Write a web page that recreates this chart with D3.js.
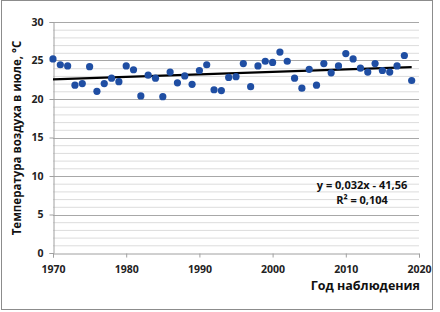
<!DOCTYPE html>
<html><head><meta charset="utf-8">
<script src="https://cdn.jsdelivr.net/npm/d3@7"></script>
<style>body{margin:0;background:#fff}svg{display:block}text{font-family:"Open Sans","Liberation Sans",Arial,sans-serif}</style>
</head><body><svg id="c" width="440" height="312"></svg>
<script>
const years = d3.range(1970, 2020);
const temps = [25.2,24.45,24.3,21.8,22.0,24.2,21.0,22.0,22.7,22.25,
  24.3,23.8,20.4,23.1,22.7,20.3,23.5,22.1,23.0,21.9,
  23.7,24.45,21.2,21.1,22.8,22.9,24.6,21.6,24.3,24.9,
  24.75,26.1,24.9,22.7,21.4,23.85,21.8,24.6,23.4,24.3,
  25.9,25.2,24.0,23.5,24.6,23.7,23.5,24.3,25.65,22.4];
const xTicks = [1970,1980,1990,2000,2010,2020];
const yTicks = [0,5,10,15,20,25,30];
const eqLabel = "y = 0,032x - 41,56";
const r2Label = "R² = 0,104";
const xTitle = "Год наблюдения";
const yTitle = "Температура  воздуха в июле, °С";

const svg = d3.select("#c");
svg.append("rect").attr("x",1.5).attr("y",0.5).attr("width",431).attr("height",309)
  .attr("fill","#fff").attr("stroke","#8c8c8c");
const x = d3.scaleLinear().domain([1970,2020]).range([53,419]);
const y = d3.scaleLinear().domain([0,30]).range([253,22]);

// grid
const g = svg.append("g");
g.selectAll("line.minor").data(d3.range(0,31).filter(v=>v%5)).join("line")
  .attr("x1",x(1970)).attr("x2",x(2020)).attr("y1",d=>y(d)+0.5).attr("y2",d=>y(d)+0.5)
  .attr("stroke","#dcdcdc").attr("stroke-width",1);
g.selectAll("line.major").data(yTicks.slice(1)).join("line")
  .attr("x1",x(1970)).attr("x2",x(2020)).attr("y1",d=>Math.round(y(d))+0.5).attr("y2",d=>Math.round(y(d))+0.5)
  .attr("stroke","#a8a8a8").attr("stroke-width",1.2);

// axes
const yAxis = svg.append("g").attr("transform",`translate(${Math.round(x(1970))+0.5},0)`)
  .call(d3.axisLeft(y).tickValues(yTicks).tickSize(4).tickPadding(6).tickFormat(d3.format("d")));
const xAxis = svg.append("g").attr("transform",`translate(0,${Math.round(y(0))+0.5})`)
  .call(d3.axisBottom(x).tickValues(xTicks).tickSize(4).tickPadding(8).tickFormat(d3.format("d")));
[yAxis,xAxis].forEach(a=>{
  a.select(".domain").attr("stroke","#a0a0a0");
  a.selectAll(".tick line").attr("stroke","#a0a0a0");
  a.selectAll("text").attr("fill","#222").attr("font-size",10.5).attr("font-weight","bold");
});

// trendline via least squares
const n = years.length;
const mx = d3.mean(years), my = d3.mean(temps);
const b = d3.sum(years,(v,i)=>(v-mx)*(temps[i]-my))/d3.sum(years,v=>(v-mx)*(v-mx));
const a0 = my - b*mx;
svg.append("line").attr("x1",x(1970)).attr("x2",x(2019))
  .attr("y1",y(a0+b*1970)).attr("y2",y(a0+b*2019))
  .attr("stroke","#000").attr("stroke-width",2.2);

// points
svg.append("g").selectAll("circle").data(years).join("circle")
  .attr("cx",d=>x(d)).attr("cy",(d,i)=>y(temps[i])).attr("r",3.6)
  .attr("fill","#1f4ea3");

// labels
svg.append("text").attr("x",362).attr("y",189).attr("text-anchor","middle")
  .attr("font-size",11).attr("font-weight","bold").attr("fill","#111").text(eqLabel);
svg.append("text").attr("x",362).attr("y",204).attr("text-anchor","middle")
  .attr("font-size",11).attr("font-weight","bold").attr("fill","#111").text(r2Label);
svg.append("text").attr("x",420).attr("y",290).attr("text-anchor","end")
  .attr("font-size",12.5).attr("font-weight","bold").attr("fill","#111").text(xTitle);
svg.append("text").attr("transform","translate(21,138) rotate(-90)").attr("text-anchor","middle")
  .attr("font-size",11.5).attr("font-weight","bold").attr("fill","#111").text(yTitle);
</script></body></html>
